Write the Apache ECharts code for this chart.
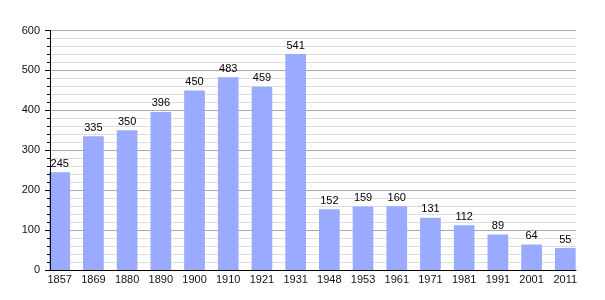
<!DOCTYPE html>
<html>
<head>
<meta charset="utf-8">
<script src="https://cdn.jsdelivr.net/npm/echarts@6/dist/echarts.min.js"></script>
<style>html,body{margin:0;padding:0;background:#fff}#c{width:605px;height:300px}</style>
</head>
<body>
<div id="c"></div>
<script>
const years = ['1857','1869','1880','1890','1900','1910','1921','1931','1948','1953','1961','1971','1981','1991','2001','2011'];
const population = [245,335,350,396,450,483,459,541,152,159,160,131,112,89,64,55];
const yMin = 0, yMax = 600, yStep = 100;

const font = 'Liberation Sans, Arial, sans-serif';
const chart = echarts.init(document.getElementById('c'), null, {renderer: 'canvas'});
chart.setOption({
  animation: false,
  backgroundColor: '#fff',
  grid: [
    {left: 50, right: 29, top: 30.5, bottom: 30},
    {left: 59.7, right: 39.7, top: 30.5, bottom: 30}
  ],
  xAxis: [
    {gridIndex: 0, type: 'value', min: 0, max: 1, axisLine: {show: true, onZero: false, lineStyle: {color: '#000', width: 1}},
     axisTick: {show: false}, axisLabel: {show: false}, splitLine: {show: false}},
    {gridIndex: 1, type: 'category', data: years, boundaryGap: false,
     axisLine: {show: false}, axisTick: {show: false}, splitLine: {show: false},
     axisLabel: {fontFamily: font, fontSize: 11, color: '#111', margin: 4, interval: 0}}
  ],
  yAxis: [
    {gridIndex: 0, type: 'value', min: yMin, max: yMax, interval: yStep, z: 0,
     axisLine: {show: false}, axisTick: {show: false}, axisLabel: {show: false},
     splitLine: {show: true, lineStyle: {color: '#aaaaaa', width: 1}},
     minorTick: {show: false, splitNumber: 5},
     minorSplitLine: {show: true, lineStyle: {color: '#dddddd', width: 1}}},
    {gridIndex: 1, type: 'value', min: yMin, max: yMax, interval: yStep, show: false,
     splitLine: {show: false}},
    {gridIndex: 0, type: 'value', min: yMin, max: yMax, interval: yStep, position: 'left', offset: 0, z: 10,
     axisLine: {show: true, lineStyle: {color: '#000', width: 1}},
     axisTick: {show: true, length: 5, lineStyle: {color: '#000'}},
     minorTick: {show: true, splitNumber: 5, length: 3, lineStyle: {color: '#000'}},
     splitLine: {show: false}, minorSplitLine: {show: false},
     axisLabel: {fontFamily: font, fontSize: 11, color: '#111', margin: 10}}
  ],
  series: [{
    type: 'bar',
    xAxisIndex: 1, yAxisIndex: 1,
    data: population,
    barWidth: 20.7,
    itemStyle: {color: '#9aabff'},
    label: {show: true, position: 'top', distance: 3, fontFamily: font, fontSize: 11, color: '#000'}
  }]
});
</script>
</body>
</html>
